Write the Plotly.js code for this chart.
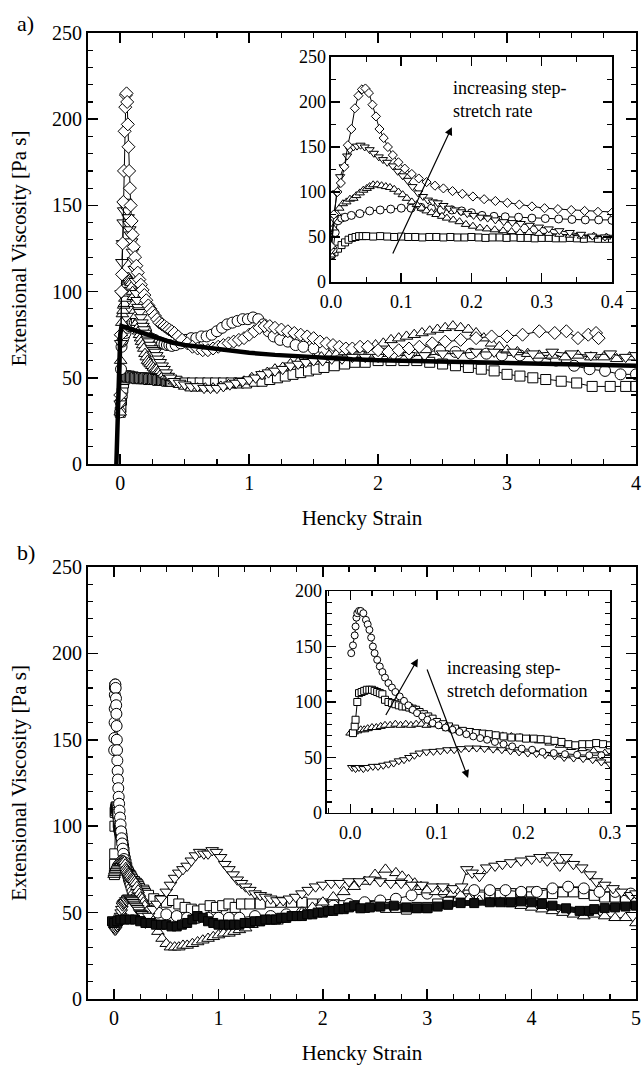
<!DOCTYPE html>
<html>
<head>
<meta charset="utf-8">
<script src="https://cdn.plot.ly/plotly-3.0.1.min.js"></script>
<style>html,body{margin:0;padding:0;background:#fff;}#chart{width:643px;height:1065px;}</style>
</head>
<body>
<div id="chart"></div>
<script>
// ---------- Panel a data: [Hencky strain, extensional viscosity (Pa s)] ----------
var aDiamonds = [[0,40],[0.004,75],[0.009,100],[0.014,110],[0.019,128],[0.024,152],[0.029,170],[0.034,193],[0.039,207],[0.044,214],[0.049,215],[0.054,210],[0.059,197],[0.064,184],[0.069,170],[0.075,160],[0.081,150],[0.088,141],[0.096,133],[0.105,126],[0.115,120],[0.125,115],[0.136,111],[0.148,107],[0.16,104],[0.173,101],[0.187,98],[0.202,95],[0.218,92],[0.234,90],[0.251,88],[0.268,86],[0.286,84],[0.304,82],[0.323,81],[0.342,80],[0.361,79],[0.38,78],[0.4,77],[0.42,76],[0.45,74],[0.48,72],[0.52,70],[0.56,68],[0.6,67],[0.64,66],[0.68,66],[0.72,67],[0.76,68],[0.8,69],[0.84,70],[0.88,71],[0.92,72],[0.96,73],[1.0,75],[1.04,77],[1.08,79],[1.12,80],[1.16,80],[1.2,79],[1.25,78],[1.3,77],[1.35,76],[1.4,75],[1.45,74],[1.5,73],[1.55,71],[1.6,70],[1.65,69],[1.7,68],[1.75,67],[1.8,67],[1.86,68],[1.92,68],[2.0,66],[2.08,65],[2.16,66],[2.24,67],[2.32,68],[2.42,70],[2.52,71],[2.64,72],[2.76,73],[2.88,74],[3.0,74],[3.12,75],[3.25,77],[3.37,76],[3.46,77],[3.55,73],[3.63,75],[3.69,76],[3.71,73]];
var aTriDown = [[0,35],[0.004,70],[0.008,99],[0.013,117],[0.018,128],[0.023,140],[0.027,147],[0.032,150],[0.037,151],[0.042,152],[0.048,150],[0.055,147],[0.061,143],[0.068,139],[0.074,136],[0.08,133],[0.088,129],[0.095,123],[0.102,118],[0.109,113],[0.116,106],[0.124,99],[0.131,95],[0.138,91],[0.145,89],[0.152,88],[0.16,85],[0.168,82],[0.176,80],[0.185,78],[0.194,76],[0.203,74],[0.213,72],[0.223,71],[0.234,69],[0.246,67],[0.258,66],[0.27,65],[0.283,63],[0.296,61],[0.31,59],[0.325,57],[0.34,55],[0.356,53],[0.372,51],[0.39,50],[0.42,48],[0.46,47],[0.5,46],[0.55,45],[0.6,45],[0.65,44],[0.7,44],[0.75,44],[0.8,45],[0.85,46],[0.9,47],[0.95,48],[1.0,49],[1.05,50],[1.1,52],[1.15,53],[1.2,54],[1.26,55],[1.32,57],[1.38,58],[1.44,59],[1.5,60],[1.57,60],[1.64,61],[1.72,61],[1.8,62],[1.9,62],[2.0,62],[2.12,63],[2.24,63],[2.36,63],[2.5,64],[2.62,64],[2.76,65],[2.9,65],[3.05,65],[3.2,64],[3.35,65],[3.5,64],[3.65,63],[3.8,64],[3.92,62],[4.0,63]];
var aTriUp = [[0,30],[0.003,60],[0.008,76],[0.012,82],[0.017,87],[0.022,89],[0.027,92],[0.032,93],[0.036,96],[0.041,99],[0.046,102],[0.051,104],[0.055,106],[0.06,108],[0.066,108],[0.072,107],[0.078,106],[0.084,105],[0.09,103],[0.096,100],[0.102,97],[0.108,93],[0.115,89],[0.122,86],[0.129,82],[0.136,79],[0.143,77],[0.15,75],[0.158,73],[0.165,71],[0.174,69],[0.183,67],[0.192,64],[0.202,62],[0.212,60],[0.222,59],[0.233,58],[0.245,57],[0.257,56],[0.269,55],[0.282,55],[0.296,54],[0.31,54],[0.325,53],[0.34,52],[0.357,51],[0.374,51],[0.392,50],[0.42,48],[0.46,46],[0.5,45],[0.55,44],[0.6,44],[0.66,44],[0.72,44],[0.78,45],[0.84,46],[0.9,47],[0.96,48],[1.02,50],[1.08,51],[1.14,53],[1.2,55],[1.26,56],[1.32,58],[1.38,59],[1.44,60],[1.5,61],[1.56,62],[1.62,63],[1.68,64],[1.74,65],[1.8,66],[1.86,67],[1.92,68],[1.98,69],[2.04,70],[2.1,72],[2.16,73],[2.22,74],[2.28,75],[2.34,76],[2.4,77],[2.46,78],[2.52,79],[2.58,80],[2.64,79],[2.7,78],[2.76,76],[2.82,73],[2.88,70],[2.94,68],[3.0,66],[3.08,65],[3.16,64],[3.25,63],[3.35,63],[3.45,62],[3.55,63],[3.65,62],[3.75,62],[3.85,61],[3.95,62]];
var aCircles = [[0,30],[0.003,36],[0.006,55],[0.01,68],[0.015,71],[0.02,72],[0.029,74],[0.041,76],[0.055,79],[0.07,80],[0.085,81],[0.1,82],[0.114,82],[0.128,83],[0.143,82],[0.157,80],[0.172,80],[0.186,79],[0.2,77],[0.215,74],[0.232,73],[0.248,72.5],[0.267,72],[0.286,71],[0.305,70.5],[0.324,70],[0.343,69.5],[0.362,69],[0.381,69],[0.4,68.5],[0.43,69],[0.47,70],[0.51,72],[0.55,73],[0.59,73],[0.63,74],[0.67,74],[0.71,75],[0.75,77],[0.79,79],[0.83,81],[0.87,82],[0.91,83],[0.95,84],[0.99,84],[1.03,85],[1.07,84],[1.11,81],[1.15,77],[1.19,74],[1.24,72],[1.3,71],[1.36,69],[1.42,68],[1.5,67],[1.58,66],[1.66,66],[1.75,65],[1.85,65],[1.95,64],[2.05,64],[2.15,64],[2.26,65],[2.37,65],[2.48,66],[2.6,65],[2.72,64],[2.84,64],[2.96,63],[3.1,63],[3.24,62],[3.38,60],[3.52,57],[3.64,55],[3.76,54],[3.88,52],[4.0,52]];
var aSquares = [[0,30],[0.005,33],[0.01,37],[0.015,41],[0.02,44],[0.025,47],[0.03,49],[0.035,50],[0.04,51],[0.045,51],[0.05,51],[0.06,50.5],[0.07,51],[0.08,50.5],[0.09,50],[0.1,50.5],[0.11,50],[0.12,50],[0.13,49.5],[0.14,50],[0.15,50],[0.16,49.5],[0.17,50],[0.18,49.5],[0.19,49.5],[0.2,50],[0.21,49.5],[0.22,49],[0.23,49.5],[0.24,49.5],[0.25,49],[0.26,49.5],[0.27,49],[0.28,49],[0.29,48.5],[0.3,49],[0.31,49],[0.32,48.5],[0.33,48.5],[0.34,49],[0.35,48.5],[0.36,48],[0.37,48.5],[0.38,48],[0.39,48],[0.4,48],[0.44,48],[0.5,47],[0.56,47],[0.62,47],[0.68,47],[0.74,47],[0.8,47],[0.86,47],[0.92,47],[0.98,47],[1.04,48],[1.1,48],[1.16,49],[1.22,50],[1.28,51],[1.34,52],[1.4,53],[1.46,54],[1.52,55],[1.58,56],[1.66,57],[1.74,58],[1.82,59],[1.9,59],[2.0,60],[2.1,60],[2.2,60],[2.3,60],[2.4,59],[2.5,58],[2.6,57],[2.7,56],[2.8,55],[2.9,54],[3.0,52],[3.1,51],[3.2,50],[3.3,49],[3.42,48],[3.54,47],[3.66,45],[3.8,45],[3.92,45],[4.0,45]];
var aModel = [[-0.03,0],[-0.02,30],[-0.01,55],[0,75],[0.01,80],[0.05,79],[0.1,77.5],[0.2,75],[0.3,72.5],[0.4,70.5],[0.5,69],[0.6,68],[0.8,66],[1.0,64.5],[1.2,63.3],[1.5,61.8],[1.8,60.7],[2.0,60.2],[2.5,59.3],[3.0,58.5],[3.5,57.7],[4.0,57]];

// ---------- Panel b data ----------
var bCircles = [[0.001,144],[0.003,151],[0.005,160],[0.006,168],[0.007,176],[0.008,180],[0.01,182],[0.012,182],[0.015,180],[0.018,174],[0.02,170],[0.022,165],[0.024,158],[0.026,150],[0.028,144],[0.031,138],[0.034,132],[0.037,127],[0.04,122],[0.044,117],[0.048,113],[0.052,109],[0.057,105],[0.062,101],[0.067,97],[0.072,93],[0.077,90],[0.083,87],[0.089,84],[0.095,81],[0.102,79],[0.11,77],[0.118,75],[0.126,73],[0.134,71],[0.142,69],[0.15,67.5],[0.158,66],[0.167,64],[0.177,62],[0.187,60],[0.198,58],[0.21,57],[0.222,55],[0.235,54],[0.248,53],[0.262,52.5],[0.276,52],[0.29,52],[0.35,51],[0.42,50],[0.5,49],[0.6,48],[0.7,47],[0.8,47],[0.9,47],[1.0,47],[1.1,47],[1.2,47],[1.35,48],[1.5,48],[1.65,49],[1.8,50],[1.95,52],[2.1,54],[2.25,55],[2.4,56],[2.55,57],[2.7,58],[2.85,60],[3.0,61],[3.15,62],[3.3,63],[3.45,63],[3.6,63],[3.75,63],[3.9,62],[4.05,62],[4.2,64],[4.35,65],[4.5,64],[4.65,62],[4.8,62],[4.95,61]];
var bSquares = [[0.003,72],[0.005,78],[0.006,84],[0.008,100],[0.01,108],[0.013,109],[0.016,110],[0.019,111],[0.022,111],[0.025,111],[0.028,110],[0.031,109],[0.034,108],[0.037,107],[0.04,102],[0.044,100],[0.048,99],[0.052,98],[0.056,97],[0.06,96],[0.064,96],[0.068,95],[0.072,94],[0.076,93],[0.08,91],[0.085,89],[0.09,87],[0.095,85],[0.1,82],[0.107,80],[0.114,78],[0.121,76],[0.13,74],[0.138,73],[0.145,72],[0.153,71.5],[0.16,71],[0.168,70],[0.177,69],[0.186,68],[0.195,68],[0.203,67],[0.212,67],[0.22,66.5],[0.228,66],[0.236,65],[0.244,64],[0.252,62],[0.26,61],[0.268,62],[0.276,62],[0.284,63],[0.292,62],[0.3,61],[0.33,60],[0.38,58],[0.44,57],[0.5,56],[0.56,57],[0.62,55],[0.68,53],[0.74,52],[0.8,51],[0.86,52],[0.92,54],[0.98,53],[1.04,54],[1.1,55],[1.16,53],[1.22,55],[1.3,55],[1.4,55],[1.5,56],[1.6,56],[1.7,56],[1.8,56],[1.9,55],[2.0,55],[2.1,55],[2.2,54],[2.3,54],[2.4,53],[2.5,54],[2.6,53],[2.7,53],[2.8,52],[2.9,53],[3.0,53],[3.1,55],[3.2,56],[3.3,57],[3.4,58],[3.5,59],[3.6,60],[3.7,61],[3.8,61],[3.9,61],[4.0,62],[4.1,61],[4.2,61],[4.3,62],[4.4,62],[4.5,61],[4.6,60],[4.7,59],[4.8,59],[4.9,57],[5.0,58]];
var bTriUp = [[0.0,72],[0.004,73],[0.008,74],[0.012,75],[0.016,75],[0.02,76],[0.025,77],[0.03,77],[0.035,78],[0.04,79],[0.046,79],[0.052,80],[0.058,79],[0.064,80],[0.07,79],[0.076,80],[0.082,80],[0.088,79],[0.094,80],[0.1,79.5],[0.106,78],[0.112,76],[0.119,75],[0.126,74],[0.134,73],[0.142,72.5],[0.15,72],[0.158,71],[0.167,70],[0.176,69.5],[0.186,69],[0.196,68],[0.207,67],[0.218,65],[0.23,63],[0.242,61],[0.255,59],[0.268,58],[0.281,56],[0.294,54],[0.32,51],[0.35,47],[0.38,43],[0.42,39],[0.46,35],[0.5,32],[0.54,30],[0.58,30],[0.62,30],[0.66,31],[0.7,31],[0.75,32],[0.8,33],[0.85,34],[0.9,35],[0.95,36],[1.0,37],[1.05,38],[1.1,38],[1.15,39],[1.2,40],[1.26,41],[1.32,43],[1.38,44],[1.44,45],[1.5,45],[1.56,45],[1.62,46],[1.7,47],[1.8,50],[1.9,53],[2.0,56],[2.1,59],[2.2,62],[2.3,65],[2.4,68],[2.5,72],[2.6,75],[2.7,73],[2.76,71],[2.82,69],[2.88,67],[2.94,65],[3.0,63],[3.08,62],[3.16,62],[3.24,61],[3.32,60],[3.4,58],[3.5,57],[3.6,56],[3.7,56],[3.8,55],[3.9,54],[4.0,53],[4.1,52],[4.2,51],[4.3,50],[4.4,49],[4.5,48],[4.6,49],[4.7,48],[4.8,47],[4.9,47],[5.0,44]];
var bTriDown = [[0.002,41],[0.006,40],[0.01,41],[0.015,40],[0.02,41],[0.026,42],[0.032,42],[0.038,43],[0.044,44],[0.05,45],[0.056,47],[0.062,48],[0.068,50],[0.074,52],[0.08,54],[0.088,55],[0.096,55.5],[0.104,56],[0.112,57],[0.12,57],[0.128,58],[0.137,58.5],[0.146,58.5],[0.155,58],[0.165,57.5],[0.175,57],[0.185,56],[0.195,55],[0.205,54],[0.215,53.5],[0.225,52.5],[0.236,51.5],[0.247,50],[0.258,49.5],[0.269,49],[0.28,48],[0.29,46],[0.3,44],[0.33,48],[0.37,52],[0.41,55],[0.45,58],[0.5,62],[0.54,66],[0.58,70],[0.62,73],[0.66,75],[0.7,77],[0.74,80],[0.78,83],[0.82,85],[0.86,84],[0.9,84],[0.94,86],[0.98,85],[1.02,82],[1.06,78],[1.1,75],[1.14,72],[1.18,69],[1.22,67],[1.26,65],[1.3,63],[1.35,61],[1.4,60],[1.45,59],[1.5,58],[1.56,57],[1.62,57],[1.68,58],[1.74,59],[1.8,61],[1.86,63],[1.93,65],[2.0,66],[2.08,67],[2.16,67],[2.25,68],[2.35,68],[2.45,69],[2.55,68],[2.65,67],[2.75,67],[2.85,66],[2.95,66],[3.05,65],[3.15,65],[3.25,64],[3.33,65],[3.38,75],[3.43,73],[3.5,71],[3.57,76],[3.65,77],[3.72,78],[3.8,79],[3.9,80],[4.0,81],[4.08,82],[4.15,80],[4.2,83],[4.27,77],[4.33,82],[4.4,78],[4.48,76],[4.56,72],[4.62,68],[4.7,66],[4.78,64],[4.86,62],[4.95,60],[5.0,61]];
var bFilled = [[-0.02,45],[0.0,44],[0.03,45],[0.06,46],[0.1,46],[0.15,46],[0.2,46],[0.25,45],[0.3,44],[0.35,44],[0.4,43],[0.45,43],[0.5,43],[0.55,42],[0.6,42],[0.65,43],[0.7,44],[0.75,46],[0.8,48],[0.85,47],[0.9,45],[0.95,44],[1.0,43],[1.05,43],[1.1,43],[1.15,43],[1.2,43],[1.25,44],[1.3,44],[1.35,45],[1.4,45],[1.45,46],[1.5,46],[1.55,46],[1.6,47],[1.65,47],[1.7,48],[1.75,48],[1.8,48],[1.85,49],[1.9,49],[1.95,50],[2.0,50],[2.05,51],[2.1,51],[2.15,52],[2.2,52],[2.25,53],[2.3,54],[2.36,52.5],[2.45,53],[2.55,53.5],[2.68,54],[2.8,53],[2.9,52.5],[3.0,52.5],[3.1,53.5],[3.2,54.5],[3.32,55.5],[3.45,55.5],[3.6,56],[3.7,56],[3.8,56],[3.9,56.5],[4.0,56],[4.1,55],[4.2,54],[4.33,52.5],[4.46,51],[4.55,51],[4.6,52],[4.7,52.6],[4.8,53],[4.9,53.5],[5.0,54]];

// ---------- Texts ----------
var xTitle = 'Hencky Strain';
var yTitle = 'Extensional Viscosity [Pa s]';
var panelLabels = ['a)', 'b)'];
var noteA = 'increasing step-<br>stretch rate';
var noteB = 'increasing step-<br>stretch deformation';

var FONT = 'Liberation Serif, Times New Roman, serif';

function series(pairs, symbol, size, xa, ya, fill) {
  return {
    type: 'scatter', mode: 'lines+markers',
    x: pairs.map(function (p) { return p[0]; }),
    y: pairs.map(function (p) { return p[1]; }),
    xaxis: xa, yaxis: ya, showlegend: false, hoverinfo: 'skip',
    line: {color: '#000', width: 1},
    marker: {symbol: symbol, size: size, color: fill || '#fff', line: {color: '#000', width: 1}}
  };
}

var traces = [
  // panel a main
  series(aSquares, 'square', 10, 'x', 'y'),
  series(aCircles, 'circle', 11, 'x', 'y'),
  series(aTriUp, 'triangle-up', 11, 'x', 'y'),
  series(aTriDown, 'triangle-down', 11, 'x', 'y'),
  series(aDiamonds, 'diamond', 10, 'x', 'y'),
  {type: 'scatter', mode: 'lines', x: aModel.map(function (p) { return p[0]; }), y: aModel.map(function (p) { return p[1]; }),
   xaxis: 'x', yaxis: 'y', showlegend: false, hoverinfo: 'skip', line: {color: '#000', width: 4.5}},
  // panel a inset
  series(aSquares, 'square', 7, 'x2', 'y2'),
  series(aCircles, 'circle', 8, 'x2', 'y2'),
  series(aTriUp, 'triangle-up', 8, 'x2', 'y2'),
  series(aTriDown, 'triangle-down', 8, 'x2', 'y2'),
  series(aDiamonds, 'diamond', 7, 'x2', 'y2'),
  // panel b main
  series(bSquares, 'square', 10, 'x3', 'y3'),
  series(bCircles, 'circle', 11, 'x3', 'y3'),
  series(bTriUp, 'triangle-up', 11, 'x3', 'y3'),
  series(bTriDown, 'triangle-down', 11, 'x3', 'y3'),
  (function () { var t = series(bFilled, 'square', 9, 'x3', 'y3', '#111'); t.line.width = 6; t.line.color = '#111'; return t; })(),
  // panel b inset
  series(bTriDown, 'triangle-down', 8, 'x4', 'y4'),
  series(bTriUp, 'triangle-up', 8, 'x4', 'y4'),
  series(bSquares, 'square', 7, 'x4', 'y4'),
  series(bCircles, 'circle', 7, 'x4', 'y4')
];

function ax(o) {
  var base = {
    showline: true, mirror: 'allticks', linecolor: '#000', linewidth: 2,
    ticks: 'inside', ticklen: 10, tickwidth: 1.5, tickcolor: '#000',
    showgrid: false, zeroline: false, fixedrange: true,
    tickfont: {family: FONT, size: 20, color: '#000'}
  };
  for (var k in o) base[k] = o[k];
  return base;
}
var inTick = {family: FONT, size: 18, color: '#000'};

var layout = {
  width: 643, height: 1065,
  margin: {l: 0, r: 0, t: 0, b: 0},
  paper_bgcolor: '#fff', plot_bgcolor: 'rgba(0,0,0,0)',
  font: {family: FONT, color: '#000'},
  xaxis: ax({domain: [0.13686, 0.98911], range: [-0.25, 4], anchor: 'y', tick0: 0, dtick: 1,
    minor: {dtick: 0.25, ticks: 'inside', ticklen: 5, tickwidth: 1.2, tickcolor: '#000'},
    title: {text: xTitle, font: {family: FONT, size: 21, color: '#000'}, standoff: 17}}),
  yaxis: ax({domain: [0.56432, 0.96901], range: [0, 250], anchor: 'x', tick0: 0, dtick: 50,
    minor: {dtick: 10, ticks: 'inside', ticklen: 5, tickwidth: 1.2, tickcolor: '#000'},
    title: {text: yTitle, font: {family: FONT, size: 21, color: '#000'}, standoff: 20}}),
  xaxis2: ax({domain: [0.51477, 0.95179], range: [0, 0.4], anchor: 'y2', tick0: 0, dtick: 0.1, tickformat: '.1f',
    linewidth: 1.5, ticklen: 9, tickfont: inTick, ticklabelstandoff: 3,
    minor: {dtick: 0.05, ticks: 'inside', ticklen: 5, tickwidth: 1.2, tickcolor: '#000'}}),
  yaxis2: ax({domain: [0.73521, 0.94648], range: [0, 250], anchor: 'x2', tick0: 0, dtick: 50,
    linewidth: 1.5, ticklen: 9, tickfont: inTick,
    minor: {dtick: 25, ticks: 'inside', ticklen: 5, tickwidth: 1.2, tickcolor: '#000'}}),
  xaxis3: ax({domain: [0.13686, 0.98911], range: [-0.25, 5], anchor: 'y3', tick0: 0, dtick: 1,
    minor: {dtick: 0.25, ticks: 'inside', ticklen: 5, tickwidth: 1.2, tickcolor: '#000'},
    title: {text: xTitle, font: {family: FONT, size: 21, color: '#000'}, standoff: 18}}),
  yaxis3: ax({domain: [0.06197, 0.46761], range: [0, 250], anchor: 'x3', tick0: 0, dtick: 50,
    minor: {dtick: 10, ticks: 'inside', ticklen: 5, tickwidth: 1.2, tickcolor: '#000'},
    title: {text: yTitle, font: {family: FONT, size: 21, color: '#000'}, standoff: 20}}),
  xaxis4: ax({domain: [0.50855, 0.94868], range: [-0.027, 0.3], anchor: 'y4', tick0: 0, dtick: 0.1, tickformat: '.1f',
    linewidth: 1.5, ticklen: 9, tickfont: inTick, ticklabelstandoff: 3,
    minor: {dtick: 0.025, ticks: 'inside', ticklen: 5, tickwidth: 1.2, tickcolor: '#000'}}),
  yaxis4: ax({domain: [0.23662, 0.44507], range: [0, 200], anchor: 'x4', tick0: 0, dtick: 50,
    linewidth: 1.5, ticklen: 9, tickfont: inTick,
    minor: {dtick: 10, ticks: 'inside', ticklen: 5, tickwidth: 1.2, tickcolor: '#000'}}),
  annotations: [
    {text: panelLabels[0], xref: 'paper', yref: 'paper', x: 25 / 643, y: 1 - 23 / 1065, xanchor: 'center', yanchor: 'middle',
     showarrow: false, font: {family: FONT, size: 22, color: '#000'}},
    {text: panelLabels[1], xref: 'paper', yref: 'paper', x: 26 / 643, y: 1 - 552 / 1065, xanchor: 'center', yanchor: 'middle',
     showarrow: false, font: {family: FONT, size: 22, color: '#000'}},
    {text: noteA, xref: 'paper', yref: 'paper', x: 451 / 643, y: 1 - 76 / 1065, xanchor: 'left', yanchor: 'top', align: 'left',
     showarrow: false, font: {family: FONT, size: 18, color: '#000'}},
    {text: noteB, xref: 'paper', yref: 'paper', x: 445 / 643, y: 1 - 656 / 1065, xanchor: 'left', yanchor: 'top', align: 'left',
     showarrow: false, font: {family: FONT, size: 18, color: '#000'}},
    {text: '', xref: 'x2', yref: 'y2', x: 0.172, y: 172, axref: 'x2', ayref: 'y2', ax: 0.087, ay: 30,
     showarrow: true, arrowhead: 2, arrowsize: 1.3, arrowwidth: 1.2, arrowcolor: '#000', standoff: 0},
    {text: '', xref: 'x4', yref: 'y4', x: 0.078, y: 139, axref: 'x4', ayref: 'y4', ax: 0.040, ay: 87,
     showarrow: true, arrowhead: 2, arrowsize: 1.3, arrowwidth: 1.2, arrowcolor: '#000', standoff: 0},
    {text: '', xref: 'x4', yref: 'y4', x: 0.136, y: 31.5, axref: 'x4', ayref: 'y4', ax: 0.088, ay: 130.6,
     showarrow: true, arrowhead: 2, arrowsize: 1.3, arrowwidth: 1.2, arrowcolor: '#000', standoff: 0}
  ]
};

Plotly.newPlot('chart', traces, layout, {staticPlot: true, displayModeBar: false});
</script>
</body>
</html>
